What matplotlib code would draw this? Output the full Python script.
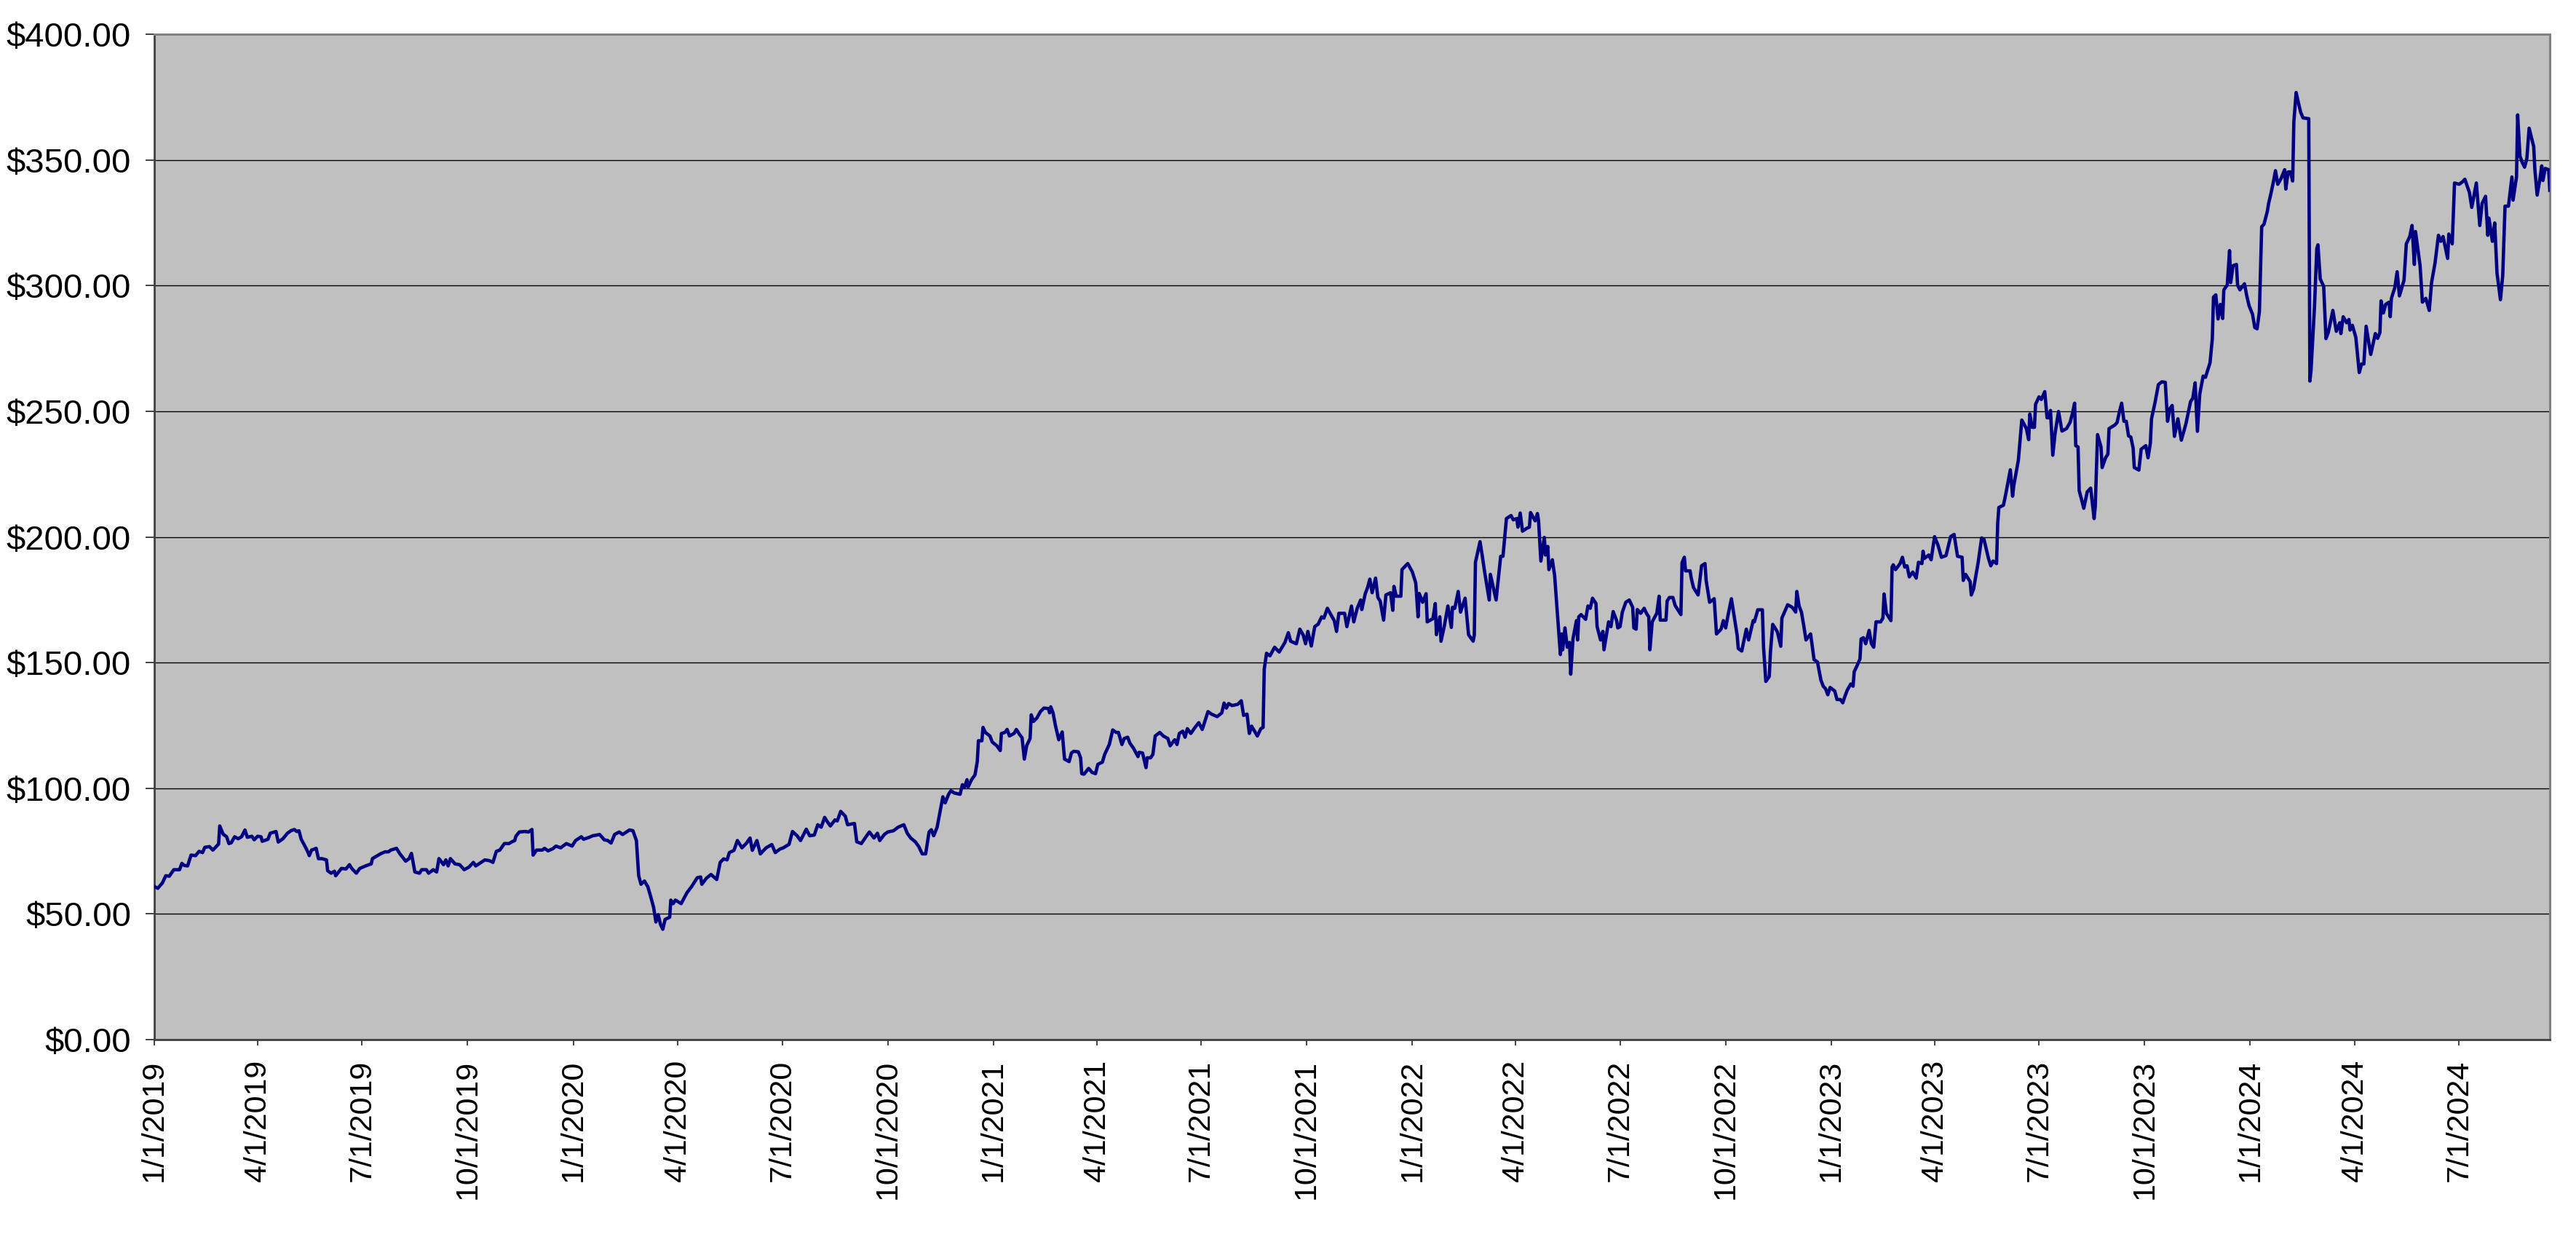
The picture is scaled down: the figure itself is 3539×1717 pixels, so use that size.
import matplotlib
matplotlib.use("Agg")
import matplotlib.pyplot as plt
import matplotlib.ticker as mticker
import pandas as pd

# ---- data ----
start_date = "2019-01-01"
day_offsets = [
    0, 3, 7, 10, 13, 17, 22, 24, 26, 29, 32, 36, 39, 42, 44, 48, 51, 56, 57, 60, 63, 65, 67, 70, 73, 76, 79, 81,
    85, 87, 90, 93, 94, 99, 101, 106, 108, 112, 116, 119, 122, 124, 126, 128, 132, 134, 135, 137, 141, 143, 146,
    150, 151, 154, 157, 158, 163, 167, 170, 172, 176, 179, 184, 189, 190, 197, 201, 204, 206, 211, 214, 219, 222,
    224, 227, 231, 233, 237, 239, 243, 246, 248, 252, 254, 256, 258, 262, 266, 270, 274, 278, 280, 284, 288, 292,
    295, 298, 301, 305, 309, 312, 314, 315, 318, 323, 326, 329, 330, 333, 338, 340, 343, 347, 350,
    354, 359, 364, 367, 372, 374, 379, 382, 388, 392, 395, 398, 401, 405, 408, 414, 417, 420, 422, 424, 427, 430,
    433, 435, 437, 439, 441, 443, 445, 449, 450, 452, 454, 459, 464, 468, 473, 476, 477, 481, 485, 490, 493, 496,
    499, 501, 505, 508, 512, 516, 519, 521, 525, 528, 533, 538, 541, 545, 548, 553, 556, 560, 563, 568, 571, 575,
    578, 581, 584, 586, 589, 593, 595, 598, 602, 604, 610, 612, 616, 620, 623, 627, 630, 632, 636, 639, 644, 648,
    653, 656, 659, 663, 666, 669, 672, 675, 677, 679, 682, 687, 689, 692,
    694, 697, 702, 704, 706, 708, 709, 712, 715, 717, 718, 721, 722, 724, 728, 730, 734, 737, 738, 741, 743, 745,
    749, 751, 754, 756, 758, 760, 763, 764, 766, 769, 772, 775, 779, 780, 781, 783, 785, 788, 791, 793, 797, 799,
    801, 805, 807, 808, 810, 814, 817, 820, 822, 826, 828, 832, 835, 838, 840, 843, 845, 848, 850, 853, 857, 858,
    861, 864, 865, 868, 870, 872, 876, 879, 883, 885, 889, 891, 893, 896, 898, 900, 903, 907, 910, 913, 918, 921,
    926, 930, 932, 934, 936, 939, 944, 947, 949, 952, 954, 956, 961, 964, 966, 967, 969, 972, 976, 980, 985, 988,
    990, 995, 998, 1001, 1003, 1005, 1008, 1011, 1014, 1017, 1019, 1022, 1025, 1028, 1030, 1032, 1037, 1039, 1043,
    1045, 1048, 1051, 1052, 1055, 1057, 1059, 1061, 1064, 1066, 1068, 1071, 1073, 1077, 1079, 1080, 1082, 1086,
    1087, 1092, 1096, 1099, 1101, 1102, 1105, 1108, 1109, 1114, 1116, 1117, 1120, 1121, 1124, 1127, 1130, 1131,
    1133, 1136, 1138, 1142, 1145, 1149, 1150, 1151, 1155, 1157, 1159, 1163, 1164, 1169, 1173, 1175, 1178, 1182,
    1184, 1187, 1188, 1190, 1192, 1196, 1198, 1199, 1203, 1205, 1206, 1208, 1211, 1212, 1214, 1215, 1218, 1220,
    1225, 1226, 1227, 1229, 1231, 1233, 1234, 1236, 1239, 1240, 1241, 1243, 1247, 1249, 1251, 1253, 1256, 1257,
    1260, 1262, 1263, 1267, 1269, 1271, 1274, 1275, 1277, 1279, 1282, 1285, 1288, 1289, 1291, 1292, 1295, 1298,
    1300, 1302, 1303, 1305, 1309, 1311, 1312, 1317, 1318, 1320, 1323, 1325, 1330, 1331, 1333, 1334, 1338, 1339,
    1341, 1345, 1348, 1351, 1352, 1355, 1359, 1361, 1365, 1367, 1369, 1371, 1374, 1376, 1379, 1380, 1383, 1387,
    1389, 1393,
    1394, 1397, 1401, 1402, 1404, 1407, 1408, 1410, 1414, 1417, 1418, 1423, 1427, 1430, 1431, 1433, 1435, 1437,
    1439, 1443, 1444, 1446, 1449, 1452, 1454, 1456, 1458, 1460, 1464, 1466, 1469, 1471, 1473, 1475, 1478, 1480,
    1481, 1483, 1486, 1487, 1489, 1491, 1494, 1496, 1498, 1500, 1504, 1506, 1507, 1509, 1513, 1514, 1515, 1517,
    1521, 1523, 1525, 1527, 1529, 1532, 1535, 1537, 1540, 1541, 1542, 1546, 1548, 1551, 1554, 1557, 1561, 1565,
    1568, 1571, 1575, 1576, 1578, 1582, 1583, 1585, 1589, 1592, 1594, 1598, 1600, 1602, 1605, 1606, 1607, 1611,
    1613, 1615, 1617, 1619, 1620, 1624, 1627, 1631, 1633, 1634, 1636, 1638, 1639, 1642, 1644, 1647, 1649, 1651,
    1652, 1654, 1656, 1659, 1662, 1666, 1669, 1671, 1673, 1674, 1676, 1677, 1679, 1681, 1684, 1687, 1690, 1691,
    1693, 1696, 1697, 1700, 1702, 1703, 1708, 1710, 1712, 1714, 1716, 1718, 1720, 1722, 1724, 1725, 1729, 1731,
    1735, 1737, 1739, 1740,
    1743, 1746, 1749, 1752, 1754, 1756, 1758, 1760, 1763, 1766, 1770, 1774, 1776, 1778, 1780, 1782, 1785, 1787,
    1791, 1793, 1794, 1796, 1798, 1800, 1802, 1803, 1806, 1808, 1809, 1811, 1814, 1815, 1817, 1821, 1823, 1825,
    1828, 1830, 1832, 1834, 1836, 1838, 1841, 1842, 1844, 1846, 1848, 1850, 1853, 1856, 1857, 1859, 1861, 1863,
    1864, 1866, 1868, 1870, 1872, 1877, 1878, 1879, 1882, 1884, 1885, 1887, 1890, 1892, 1894, 1898, 1901, 1904,
    1905, 1907, 1910, 1912, 1913, 1915, 1918, 1921, 1923, 1925, 1927, 1931, 1935, 1937, 1939, 1940, 1942, 1944,
    1947, 1948, 1949, 1952, 1954, 1956, 1960, 1962, 1965, 1967, 1969, 1970, 1974, 1976, 1979, 1982, 1984, 1987,
    1990, 1992, 1994, 1998, 1999, 2002, 2004, 2008, 2011, 2013, 2017, 2019, 2023, 2026, 2028, 2031, 2033, 2034,
    2037, 2039, 2041, 2044, 2046, 2048, 2051, 2054, 2055, 2058, 2059, 2061, 2063, 2065, 2067, 2069, 2073, 2074,
    2076, 2078, 2080, 2081, 2083, 2086, 2087,
]
prices = [
    60.9, 60.2, 62.3, 65.2, 65.0, 67.6, 67.6, 70.1, 69.3, 69.1, 73.4, 73.2, 74.9, 74.4, 76.5, 76.8, 75.4, 77.8,
    85.0, 81.7, 80.7, 78.0, 78.3, 80.7, 79.9, 80.7, 83.4, 80.5, 80.9, 79.5, 80.9, 80.7, 78.9, 79.7, 82.1, 82.8,
    78.6, 79.9, 82.1, 83.1, 83.6, 82.8, 83.1, 79.7, 76.3, 74.4, 73.2, 75.4, 76.1, 72.0, 72.0, 71.5, 67.2, 66.2,
    67.0, 65.2, 68.1, 67.9, 69.6, 68.1, 66.2, 68.1, 69.1, 69.9, 72.0, 73.9, 74.7, 74.7, 75.4, 76.1, 73.9, 71.0,
    72.0, 74.1, 66.7, 66.2, 67.6, 67.6, 66.2, 67.6, 66.7, 72.0, 69.6, 71.5, 69.1, 72.0, 69.9, 69.6, 67.6, 68.6,
    70.5, 69.1, 70.3, 71.5, 71.2, 70.5, 74.9, 75.4, 78.0, 78.0, 78.8, 79.2, 80.9, 82.6, 82.8, 82.6, 83.6, 73.4,
    75.4, 75.4, 76.1, 75.1, 75.9, 77.0,
    76.3, 78.0, 77.0, 79.2, 80.7, 79.7, 80.5, 81.1, 81.6, 79.5, 79.2, 78.2, 81.6, 82.6, 81.6, 83.4, 83.1, 79.2,
    65.2, 61.8, 63.1, 60.8, 56.0, 52.6, 46.8, 49.7, 45.8, 43.9, 47.8, 48.7, 55.5, 54.1, 55.5, 54.1, 58.4, 60.8,
    64.4, 64.7, 61.8, 64.2, 65.7, 63.7, 70.5, 71.9, 71.5, 74.4, 75.3, 79.2, 76.3, 78.2, 80.2, 75.3, 79.2, 73.9,
    76.3, 77.6, 74.4, 75.8, 76.3, 77.7, 82.8, 81.1, 79.2, 83.7, 81.1, 81.4, 85.5, 84.5, 88.4, 86.9, 85.0, 87.4,
    87.0, 90.8, 88.9, 85.5, 86.0, 78.7, 78.0, 80.7, 82.6, 80.2, 82.1, 79.2, 81.6, 82.6, 83.1, 84.5, 85.5, 82.1,
    80.2, 78.7, 76.8, 73.9, 73.9, 82.6, 83.5, 81.1, 84.5, 96.6, 94.2, 97.6,
    99.0, 98.1, 97.6, 101.4, 100.5, 103.4, 100.5, 103.4, 105.3, 110.6, 118.9, 118.9, 124.2, 122.2, 120.8, 118.4,
    116.9, 115.0, 121.8, 122.2, 123.4, 120.8, 121.8, 123.4, 121.3, 120.1, 111.6, 116.9, 119.8, 129.2, 126.6,
    128.0, 130.5, 131.9, 131.7, 130.0, 132.4, 130.0, 125.1, 119.3, 122.4, 111.6, 110.6, 114.0, 114.7, 114.5,
    112.1, 105.8, 105.6, 107.9, 106.3, 105.8, 109.5, 110.4, 113.5, 117.4, 123.2, 122.2, 122.2, 117.4, 119.8,
    120.3, 117.9, 116.0, 112.6, 114.3, 114.0, 108.2, 112.1, 112.1, 113.5, 120.8, 122.2, 120.8, 119.8, 116.9,
    119.3, 117.4, 121.8, 122.7, 120.3, 123.7, 121.8, 124.4, 126.1, 123.4, 130.5, 129.5, 128.5, 130.0, 133.9,
    131.9, 133.7, 132.9, 133.4, 134.8, 129.0, 129.5, 121.8, 124.7, 120.8, 123.7, 124.2, 147.4, 153.7, 152.7,
    156.1, 154.2, 158.0, 161.9, 158.5, 157.5, 163.3, 160.9, 157.5, 162.4, 156.6, 164.3, 165.3, 168.2, 167.7,
    171.6, 169.1, 166.7, 162.4, 169.6, 169.6, 164.3, 172.5,
    166.2, 171.6, 174.9, 171.1, 177.4, 179.8, 183.2, 177.8, 183.6, 175.9, 174.5, 166.9, 176.9, 177.8, 170.8,
    180.3, 176.4, 176.4, 187.0, 189.4, 186.1, 181.7, 168.2, 177.5, 174.0, 177.4, 166.2, 167.5, 173.5, 161.1,
    168.2, 158.5, 164.8, 172.5, 164.0, 172.0, 171.6, 178.3, 170.1, 175.6, 161.1, 158.5, 160.9, 189.9, 198.1,
    192.3, 186.1, 174.9, 185.1, 174.9, 192.3, 192.3, 207.3, 208.5, 206.8, 207.3, 203.9, 209.5, 202.3, 203.5,
    203.9, 209.7, 206.4, 209.3, 206.4, 190.4, 199.8, 192.8, 196.2, 187.0, 190.9, 184.6, 153.2, 161.4, 155.1,
    163.8, 156.1, 158.0, 145.4, 159.5, 166.7, 159.0, 168.2, 169.1, 167.2, 172.5, 171.6, 175.6, 173.5, 164.3,
    159.0, 162.4, 155.1, 166.2, 164.3, 170.3, 166.7, 163.8, 164.3, 170.1, 174.0, 174.9, 172.0, 163.8, 163.3,
    171.1, 169.6, 171.6, 169.6, 168.2, 155.1, 166.2, 169.6, 176.4, 166.9, 166.9, 174.5, 175.9, 175.9, 172.7,
    169.1, 189.7, 191.9, 186.5, 186.5, 183.6, 179.8, 176.9, 188.5, 189.4, 182.7, 174.0, 175.4, 161.4, 163.3,
    166.7, 163.8, 168.7, 175.4, 169.6, 160.9, 155.6, 154.6, 163.3, 159.0, 166.7,
    166.2, 171.0, 171.0, 156.1, 142.5, 144.5, 154.1, 165.2, 162.3, 156.5, 167.7, 173.0, 172.0, 170.1, 178.3,
    172.5, 170.1, 164.8, 159.0, 161.4, 158.0, 151.2, 150.2, 143.0, 140.6, 139.6, 137.2, 140.1, 138.7, 135.3,
    135.3, 134.0, 136.7, 139.1, 141.5, 140.6, 146.4, 148.3, 151.4, 159.4, 159.9, 157.5, 162.8, 157.5, 156.1,
    166.2, 166.2, 167.7, 177.3, 169.6, 166.7, 188.0, 188.9, 187.0, 189.4, 191.9, 188.0, 188.5, 184.1, 186.0,
    183.6, 189.9, 189.4, 194.3, 191.4, 192.8, 190.9, 200.1, 196.7, 191.9, 192.6, 200.1, 201.0, 192.3, 191.9,
    182.7, 185.1, 182.2, 176.9, 179.3, 189.9, 199.6, 199.1, 191.4, 188.5, 190.4, 189.4, 205.4, 211.7, 212.6,
    217.0, 221.8, 226.7, 216.2, 220.4, 230.5, 246.5, 243.1, 238.7, 248.9, 243.6, 243.6, 252.8, 255.7, 254.7,
    257.8, 247.4, 247.4, 250.3, 232.5, 241.2, 249.9, 242.1, 243.1, 245.5, 248.9, 253.2, 236.3, 235.8, 218.4,
    215.0, 211.4, 217.9, 219.4, 207.3, 212.1, 240.7, 235.8, 227.6, 231.5, 232.9, 243.1, 244.5, 245.5, 249.7,
    253.2, 246.0, 246.0, 240.2, 239.7, 235.3, 227.6, 226.6, 234.9, 236.3, 231.5, 237.3, 247.0,
    253.3, 260.6, 261.7, 261.5, 246.0, 251.0, 252.3, 240.0, 247.0, 238.5, 245.0, 253.8, 255.2, 261.3, 242.0,
    256.7, 264.0, 263.5, 269.3, 278.9, 295.4, 296.3, 286.7, 292.5, 286.9, 298.3, 300.2, 313.9, 301.2, 307.9,
    308.4, 300.2, 298.3, 300.7, 295.9, 292.0, 288.6, 283.3, 282.8, 289.6, 323.4, 324.4, 329.7, 332.6, 336.5,
    340.8, 345.7, 340.3, 342.7, 346.1, 338.4, 345.2, 345.2, 341.6, 365.0, 376.8, 372.7, 368.9, 366.7, 366.4,
    262.0, 266.4, 291.5, 314.7, 316.2, 302.6, 299.7, 278.9, 281.3, 290.1, 281.8, 285.2, 280.9, 287.6, 285.2,
    286.5, 282.3, 284.2, 279.4, 265.4, 268.8, 268.8, 283.8, 272.6, 280.9, 279.0, 281.3, 293.9, 289.1, 292.5,
    293.4, 287.6, 294.9, 299.2, 305.5, 295.9, 302.1, 316.6, 319.5, 323.9, 308.4, 321.5, 307.9, 293.4, 294.9,
    290.1, 301.2, 308.9, 320.0, 317.6, 319.5, 310.8, 320.5, 316.6, 340.8, 340.3, 341.3, 342.3, 337.0, 331.1,
    340.8, 323.9, 332.6, 335.5, 320.0, 326.8, 317.6, 324.9, 305.0, 294.4, 304.1, 331.6, 331.6, 343.2, 334.0,
    343.2, 367.9, 351.5, 349.0, 347.1, 350.5, 362.6, 355.3, 346.1, 336.0, 341.3, 347.6, 341.8, 346.6, 346.1,
    337.9,
]
tick_dates = [
    "2019-01-01", "2019-04-01", "2019-07-01", "2019-10-01",
    "2020-01-01", "2020-04-01", "2020-07-01", "2020-10-01",
    "2021-01-01", "2021-04-01", "2021-07-01", "2021-10-01",
    "2022-01-01", "2022-04-01", "2022-07-01", "2022-10-01",
    "2023-01-01", "2023-04-01", "2023-07-01", "2023-10-01",
    "2024-01-01", "2024-04-01", "2024-07-01",
]
tick_labels = [
    "1/1/2019", "4/1/2019", "7/1/2019", "10/1/2019",
    "1/1/2020", "4/1/2020", "7/1/2020", "10/1/2020",
    "1/1/2021", "4/1/2021", "7/1/2021", "10/1/2021",
    "1/1/2022", "4/1/2022", "7/1/2022", "10/1/2022",
    "1/1/2023", "4/1/2023", "7/1/2023", "10/1/2023",
    "1/1/2024", "4/1/2024", "7/1/2024",
]
y_ticks = [0, 50, 100, 150, 200, 250, 300, 350, 400]

# ---- build ----
dates = pd.to_datetime(start_date) + pd.to_timedelta(day_offsets, unit="D")
series = pd.Series(prices, index=dates)

plt.rcParams['font.family'] = ['Liberation Sans', 'DejaVu Sans']

fig = plt.figure(figsize=(35.39, 17.17), dpi=100, facecolor="white")
ax = fig.add_axes([212 / 3539, 1 - 1428 / 1717, (3503 - 212) / 3539, (1428 - 47) / 1717])
ax.set_facecolor("#C0C0C0")

ax.plot(series.index, series.values, color="#000080", linewidth=3.3, solid_joinstyle="round", zorder=3)

ax.set_ylim(0, 400)
ax.set_yticks(y_ticks)
ax.yaxis.set_major_formatter(mticker.FuncFormatter(lambda v, p: f"${v:,.2f}"))
ax.grid(axis="y", color="#000000", linewidth=1.0, zorder=1)
ax.grid(axis="x", visible=False)
ax.set_axisbelow(True)

ax.set_xlim(dates[0], dates[-1])
ax.set_xticks(pd.to_datetime(tick_dates))
ax.set_xticklabels(tick_labels, rotation=90, ha="center", va="top")

ax.tick_params(axis="y", direction="out", length=9, width=1.4, color="#404040",
               labelsize=34, pad=14, colors="black")
ax.tick_params(axis="x", direction="out", length=6, width=1.4, color="#404040",
               labelsize=31, pad=14)

for side in ("top", "right"):
    ax.spines[side].set_color("#808080")
    ax.spines[side].set_linewidth(2.2)
for side in ("left", "bottom"):
    ax.spines[side].set_color("#404040")
    ax.spines[side].set_linewidth(2.0)

fig.savefig("out.png", dpi=100, facecolor="white")
